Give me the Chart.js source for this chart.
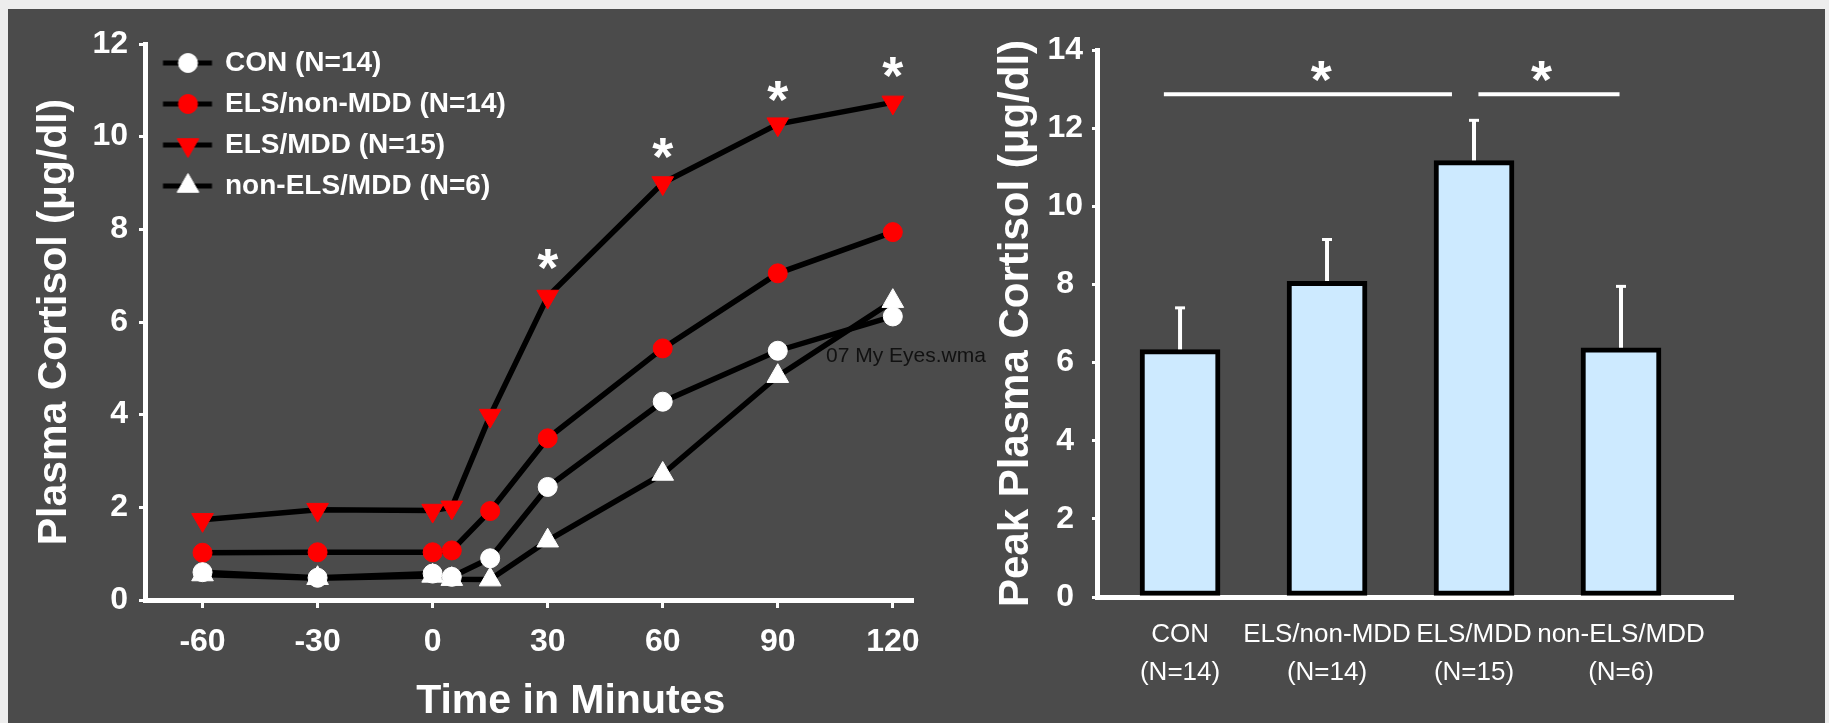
<!DOCTYPE html>
<html><head><meta charset="utf-8">
<script src="https://cdn.jsdelivr.net/npm/chart.js@4.4.1/dist/chart.umd.min.js"></script>
<style>
html,body{margin:0;padding:0;background:#ededed;width:1829px;height:723px;overflow:hidden;position:relative;}
#panel{position:absolute;left:8px;top:9px;width:1817px;height:714px;background:#4b4b4b;}
#c1{position:absolute;left:0;top:0;}
#c2{position:absolute;left:960px;top:0;}
#note{position:absolute;left:826px;top:344px;font:21px 'Liberation Sans',Arial,sans-serif;color:#111;line-height:21px;white-space:nowrap;}
</style></head><body>
<div id="panel"></div>
<canvas id="c1" width="960" height="723"></canvas>
<canvas id="c2" width="869" height="723"></canvas>
<div id="note">07 My Eyes.wma</div>
<script>
// ---------- data: left panel ----------
const times = [-60, -30, 0, 5, 15, 30, 60, 90, 120];
const conValues       = [0.60, 0.48, 0.57, 0.50, 0.90, 2.44, 4.28, 5.38, 6.12];
const elsNonMddValues = [1.02, 1.03, 1.03, 1.07, 1.92, 3.49, 5.43, 7.05, 7.94];
const elsMddValues    = [1.73, 1.95, 1.93, 2.00, 3.98, 6.55, 9.00, 10.27, 10.74];
const nonElsMddValues = [0.55, 0.47, 0.52, 0.45, 0.44, 1.28, 2.72, 4.83, 6.45];
const seriesNames = ['CON (N=14)', 'ELS/non-MDD (N=14)', 'ELS/MDD (N=15)', 'non-ELS/MDD (N=6)'];
const timeTicks = [-60, -30, 0, 30, 60, 90, 120];
const starTimes = [30, 60, 90, 120];
const starLevels = [7.43, 9.83, 11.06, 11.57];

// ---------- data: right panel ----------
const barCategories = [['CON', '(N=14)'], ['ELS/non-MDD', '(N=14)'], ['ELS/MDD', '(N=15)'], ['non-ELS/MDD', '(N=6)']];
const peakMeans = [6.33, 8.08, 11.17, 6.38];
const peakSEM   = [1.07, 1.07, 1.03, 1.57];
const sigLineStart = [0.89, 3.03];
const sigLineEnd   = [2.85, 3.99];
const sigLineLevel = [12.87, 12.87];
const sigStarPos   = [1.96, 3.46];
const sigStarLevel = [13.55, 13.55];

// ---------- styles ----------
const FONT = "'Liberation Sans', Arial, Helvetica, sans-serif";
Chart.defaults.font.family = FONT;
Chart.defaults.color = '#ffffff';
const seriesColors = ['#ffffff', '#ff0000', '#ff0000', '#ffffff'];
const seriesMarkers = ['circle', 'circle', 'triangle', 'triangle'];
const seriesRotation = [0, 0, 180, 0];
const seriesRadius = [9.5, 9.5, 12.5, 12.5];
const seriesValues = [conValues, elsNonMddValues, elsMddValues, nonElsMddValues];

const datasets = [];
seriesValues.forEach((vals, i) => {
  datasets.push({
    label: seriesNames[i], data: times.map((t, j) => ({x: t, y: vals[j]})),
    showLine: true, borderColor: '#000000', borderWidth: 5.5, pointRadius: 0, tension: 0, order: 10
  });
});
seriesValues.forEach((vals, i) => {
  datasets.push({
    label: seriesNames[i], data: times.map((t, j) => ({x: t, y: vals[j]})),
    showLine: false, pointStyle: seriesMarkers[i], rotation: seriesRotation[i],
    pointRadius: seriesRadius[i], pointBackgroundColor: seriesColors[i], pointBorderColor: seriesColors[i],
    pointBorderWidth: 1, backgroundColor: seriesColors[i], borderColor: seriesColors[i], order: i
  });
});

function legendIcon(i) {
  const c = document.createElement('canvas');
  c.width = 70; c.height = 30;
  const g = c.getContext('2d');
  g.strokeStyle = '#000'; g.lineWidth = 5;
  g.beginPath(); g.moveTo(17.5, 15); g.lineTo(66.5, 15); g.stroke();
  g.fillStyle = seriesColors[i]; g.strokeStyle = seriesColors[i]; g.lineWidth = 1;
  Chart.helpers.drawPoint(g, {pointStyle: seriesMarkers[i], rotation: seriesRotation[i], radius: seriesRadius[i], borderWidth: 1}, 42.5, 15);
  return c;
}
const legendIcons = seriesNames.map((n, i) => legendIcon(i));

const legendPlace = {
  id: 'legendPlace',
  afterLayout(chart) {
    const l = chart.legend, a = chart.chartArea;
    if (!l) return;
    l.left = a.left; l.top = a.top; l.right = a.left + l.width; l.bottom = a.bottom;
  }
};

const leftStars = {
  id: 'leftStars',
  afterDatasetsDraw(chart) {
    const {ctx, scales: {x, y}} = chart;
    ctx.save();
    ctx.fillStyle = '#fff'; ctx.font = 'bold 54px ' + FONT; ctx.textAlign = 'center'; ctx.textBaseline = 'alphabetic';
    starTimes.forEach((t, i) => ctx.fillText('*', x.getPixelForValue(t), y.getPixelForValue(starLevels[i]) + 30));
    ctx.restore();
  }
};

const xTitle = {
  id: 'xTitle',
  afterDraw(chart) {
    const {ctx, scales: {x}} = chart;
    ctx.save();
    ctx.fillStyle = '#fff'; ctx.font = 'bold 41px ' + FONT; ctx.textAlign = 'center'; ctx.textBaseline = 'alphabetic';
    ctx.fillText('Time in Minutes', x.getPixelForValue(36), chart.height - 10);
    ctx.restore();
  }
};

new Chart(document.getElementById('c1'), {
  type: 'line',
  data: {datasets},
  options: {
    responsive: false, animation: false, clip: false,
    layout: {padding: {left: 0, top: 44, right: 48, bottom: 0}},
    plugins: {
      tooltip: {enabled: false},
      legend: {
        position: 'chartArea', align: 'start',
        labels: {
          usePointStyle: true, pointStyleWidth: 61, padding: 5, color: '#fff',
          font: {size: 28, weight: 'bold', lineHeight: 36 / 28},
          generateLabels: () => seriesNames.map((n, i) => ({
            text: [n], fontColor: '#fff', pointStyle: legendIcons[i], hidden: false,
            datasetIndex: i + 4, lineWidth: 0, strokeStyle: 'transparent', fillStyle: 'transparent'
          }))
        }
      }
    },
    scales: {
      x: {
        type: 'linear', min: -75, max: 125,
        afterBuildTicks: s => { s.ticks = timeTicks.map(v => ({value: v})); },
        afterFit: s => { s.height = 123; },
        grid: {drawOnChartArea: false, color: '#fff', lineWidth: 3, tickLength: 8},
        border: {color: '#fff', width: 5},
        ticks: {color: '#fff', font: {size: 32, weight: 'bold'}, padding: 15, maxRotation: 0, autoSkip: false, callback: v => String(v)}
      },
      y: {
        min: 0, max: 12,
        afterFit: s => { s.width = 145; },
        grid: {drawOnChartArea: false, color: '#fff', lineWidth: 3, tickLength: 6},
        border: {color: '#fff', width: 5},
        ticks: {stepSize: 2, color: '#fff', font: {size: 32, weight: 'bold'}, padding: 11},
        title: {display: true, text: 'Plasma Cortisol (μg/dl)', color: '#fff', font: {size: 41, weight: 'bold'}, padding: {top: 30, bottom: 0}}
      }
    }
  },
  plugins: [legendPlace, leftStars, xTitle]
});

// ---------- right panel ----------
const errorBars = {
  id: 'errorBars',
  beforeDatasetsDraw(chart) {
    const {ctx, scales: {x, y}} = chart;
    ctx.save();
    ctx.strokeStyle = '#fff';
    peakMeans.forEach((m, i) => {
      const px = x.getPixelForValue(i + 1);
      const y1 = y.getPixelForValue(m), y2 = y.getPixelForValue(m + peakSEM[i]);
      ctx.lineWidth = 4;
      ctx.beginPath(); ctx.moveTo(px, y1 + 4); ctx.lineTo(px, y2); ctx.stroke();
      ctx.lineWidth = 3;
      ctx.beginPath(); ctx.moveTo(px - 5, y2); ctx.lineTo(px + 5, y2); ctx.stroke();
    });
    ctx.restore();
  }
};
const sigMarks = {
  id: 'sigMarks',
  afterDatasetsDraw(chart) {
    const {ctx, scales: {x, y}} = chart;
    ctx.save();
    ctx.strokeStyle = '#fff'; ctx.lineWidth = 4;
    sigLineStart.forEach((s, i) => {
      const py = y.getPixelForValue(sigLineLevel[i]);
      ctx.beginPath(); ctx.moveTo(x.getPixelForValue(s), py); ctx.lineTo(x.getPixelForValue(sigLineEnd[i]), py); ctx.stroke();
    });
    ctx.fillStyle = '#fff'; ctx.font = 'bold 54px ' + FONT; ctx.textAlign = 'center'; ctx.textBaseline = 'alphabetic';
    sigStarPos.forEach((p, i) => ctx.fillText('*', x.getPixelForValue(p), y.getPixelForValue(sigStarLevel[i]) + 30));
    ctx.restore();
  }
};

new Chart(document.getElementById('c2'), {
  type: 'bar',
  data: {datasets: [{
    label: 'Peak Plasma Cortisol',
    data: peakMeans.map((v, i) => ({x: i + 1, y: v})),
    backgroundColor: '#cdeaff', borderColor: '#000000', borderWidth: 5, borderSkipped: false, barThickness: 80
  }]},
  options: {
    responsive: false, animation: false,
    layout: {padding: {left: 0, top: 50, right: 96, bottom: 0}},
    plugins: {legend: {display: false}, tooltip: {enabled: false}},
    scales: {
      x: {
        type: 'linear', min: 0.435, max: 4.762, offset: false,
        afterBuildTicks: s => { s.ticks = barCategories.map((c, i) => ({value: i + 1})); },
        afterFit: s => { s.height = 126; },
        grid: {display: false},
        border: {color: '#fff', width: 5},
        ticks: {color: '#fff', font: {size: 26, lineHeight: 38 / 26}, padding: 11, maxRotation: 0, autoSkip: false,
                callback: v => barCategories[v - 1]}
      },
      y: {
        min: 0, max: 14,
        afterFit: s => { s.width = 137; },
        grid: {drawOnChartArea: false, color: '#fff', lineWidth: 3, tickLength: 5},
        border: {color: '#fff', width: 5},
        ticks: {stepSize: 2, color: '#fff', crossAlign: 'center', font: {size: 32, weight: 'bold'}, padding: 9},
        title: {display: true, text: 'Peak Plasma Cortisol (μg/dl)', color: '#fff', font: {size: 42, weight: 'bold'}, padding: {top: 31, bottom: 0}}
      }
    }
  },
  plugins: [errorBars, sigMarks]
});
</script>
</body></html>
